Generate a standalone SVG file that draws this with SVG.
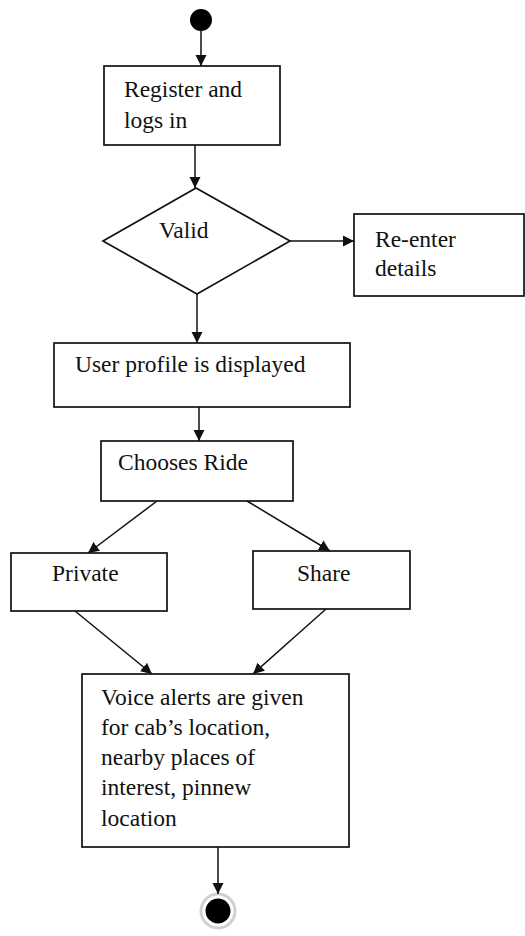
<svg xmlns="http://www.w3.org/2000/svg" width="525" height="936" viewBox="0 0 525 936">
<style>
.box{fill:#fff;stroke:#111;stroke-width:1.7}
.lbl{font-family:"Liberation Serif","Times New Roman",serif;font-size:23.5px;fill:#111}
.edge{stroke:#111;stroke-width:1.5;fill:none;marker-end:url(#ah)}
</style>
<defs>
<marker id="ah" markerUnits="userSpaceOnUse" markerWidth="12" markerHeight="12" viewBox="0 0 12 12" refX="11" refY="6" orient="auto">
<path d="M0,0.5 L11,6 L0,11.5 Z" fill="#111"/>
</marker>
</defs>
<rect width="525" height="936" fill="#fff"/>
<g id="start"><circle cx="201" cy="20" r="11" fill="#000"/></g>
<g id="register"><rect class="box" x="104" y="66" width="176" height="79"/><text class="lbl" x="124" y="97">Register and</text><text class="lbl" x="124" y="128">logs in</text></g>
<g id="valid"><polygon class="box" points="196,188 290,241 197,294 103,241"/><text class="lbl" x="159" y="238">Valid</text></g>
<g id="reenter"><rect class="box" x="354" y="214" width="170" height="82"/><text class="lbl" x="375" y="247">Re-enter</text><text class="lbl" x="375" y="276">details</text></g>
<g id="profile"><rect class="box" x="54" y="343" width="296" height="64"/><text class="lbl" x="75" y="372">User profile is displayed</text></g>
<g id="chooses"><rect class="box" x="101" y="441" width="192" height="60"/><text class="lbl" x="118" y="470">Chooses Ride</text></g>
<g id="private"><rect class="box" x="11" y="553" width="156" height="58"/><text class="lbl" x="52" y="581">Private</text></g>
<g id="share"><rect class="box" x="253" y="551" width="157" height="58"/><text class="lbl" x="297" y="581">Share</text></g>
<g id="voice"><rect class="box" x="82" y="674" width="267" height="173"/>
<text class="lbl" x="101" y="705">Voice alerts are given</text>
<text class="lbl" x="101" y="735">for cab’s location,</text>
<text class="lbl" x="101" y="765">nearby places of</text>
<text class="lbl" x="101" y="795">interest, pinnew</text>
<text class="lbl" x="101" y="826">location</text></g>
<g id="end"><circle cx="218" cy="911" r="17" fill="#fff" stroke="#d0d0d0" stroke-width="3"/><circle cx="218" cy="911" r="12.5" fill="#000"/></g>
<g id="connectors">
<line class="edge" x1="201" y1="31" x2="201" y2="66"/>
<line class="edge" x1="195" y1="145" x2="195" y2="188"/>
<line class="edge" x1="290" y1="241" x2="354" y2="241"/>
<line class="edge" x1="197" y1="294" x2="197" y2="343"/>
<line class="edge" x1="199" y1="407" x2="199" y2="441"/>
<line class="edge" x1="157" y1="501" x2="88" y2="553"/>
<line class="edge" x1="247" y1="501" x2="330" y2="551"/>
<line class="edge" x1="75" y1="611" x2="152" y2="674"/>
<line class="edge" x1="326" y1="609" x2="253" y2="674"/>
<line class="edge" x1="218" y1="847" x2="218" y2="894"/>
</g>
</svg>
